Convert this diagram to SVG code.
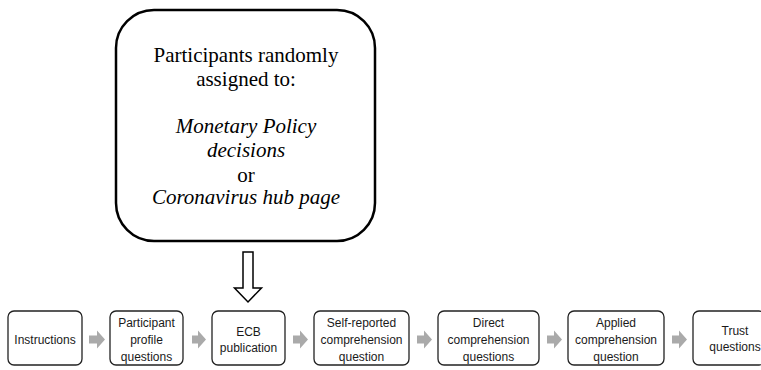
<svg xmlns="http://www.w3.org/2000/svg" width="761" height="370" viewBox="0 0 761 370">
<style>
.big{fill:#fff;stroke:#000;stroke-width:2.5}
.t{font-family:"Liberation Serif",serif;font-size:21px;fill:#000;text-anchor:middle}
.i{font-style:italic}
.box{fill:#fff;stroke:#222;stroke-width:1.3}
.s{font-family:"Liberation Sans",Arial,sans-serif;font-size:12px;fill:#1a1a1a;text-anchor:middle}
.ga{fill:#aaaaaa}
</style>
<g id="assign">
<rect class="big" x="116" y="10" width="259" height="231" rx="38" ry="38"/>
<text class="t" x="246" y="62">Participants randomly</text>
<text class="t" x="246" y="86">assigned to:</text>
<text class="t i" x="246" y="133">Monetary Policy</text>
<text class="t i" x="246" y="157">decisions</text>
<text class="t" x="246" y="182">or</text>
<text class="t i" x="246" y="204">Coronavirus hub page</text>
</g>
<g id="connectors">
<path d="M243,252 H253 V288 H261.5 L248,302 L234.5,288 H243 Z" fill="#fff" stroke="#000" stroke-width="1.5"/>
<path class="ga" d="M89,335.5 H97 V330.5 L105,339.5 L97,348.5 V343.5 H89 Z"/>
<path class="ga" d="M192,335.5 H198 V330.5 L206,339.5 L198,348.5 V343.5 H192 Z"/>
<path class="ga" d="M293,335.5 H300 V330.5 L308,339.5 L300,348.5 V343.5 H293 Z"/>
<path class="ga" d="M417,335.5 H424 V330.5 L432,339.5 L424,348.5 V343.5 H417 Z"/>
<path class="ga" d="M547,335.5 H554 V330.5 L562,339.5 L554,348.5 V343.5 H547 Z"/>
<path class="ga" d="M672,335.5 H679 V330.5 L687,339.5 L679,348.5 V343.5 H672 Z"/>
</g>
<g id="n1"><rect class="box" x="8" y="311" width="74" height="54" rx="6"/>
<text class="s" x="45" y="344">Instructions</text></g>
<g id="n2"><rect class="box" x="110" y="311" width="73" height="54" rx="6"/>
<text class="s" x="146.5" y="327">Participant</text><text class="s" x="146.5" y="344">profile</text><text class="s" x="146.5" y="361">questions</text></g>
<g id="n3"><rect class="box" x="212" y="311" width="73" height="54" rx="6"/>
<text class="s" x="248.5" y="336">ECB</text><text class="s" x="248.5" y="352">publication</text></g>
<g id="n4"><rect class="box" x="314" y="311" width="95" height="54" rx="6"/>
<text class="s" x="361.5" y="327">Self-reported</text><text class="s" x="361.5" y="344">comprehension</text><text class="s" x="361.5" y="361">question</text></g>
<g id="n5"><rect class="box" x="438" y="311" width="101" height="54" rx="6"/>
<text class="s" x="488.5" y="327">Direct</text><text class="s" x="488.5" y="344">comprehension</text><text class="s" x="488.5" y="361">questions</text></g>
<g id="n6"><rect class="box" x="568" y="311" width="96" height="54" rx="6"/>
<text class="s" x="616" y="327">Applied</text><text class="s" x="616" y="344">comprehension</text><text class="s" x="616" y="361">question</text></g>
<g id="n7"><rect class="box" x="693" y="311" width="72" height="54" rx="6"/>
<text class="s" x="735" y="335">Trust</text><text class="s" x="735" y="351">questions</text></g>
</svg>
